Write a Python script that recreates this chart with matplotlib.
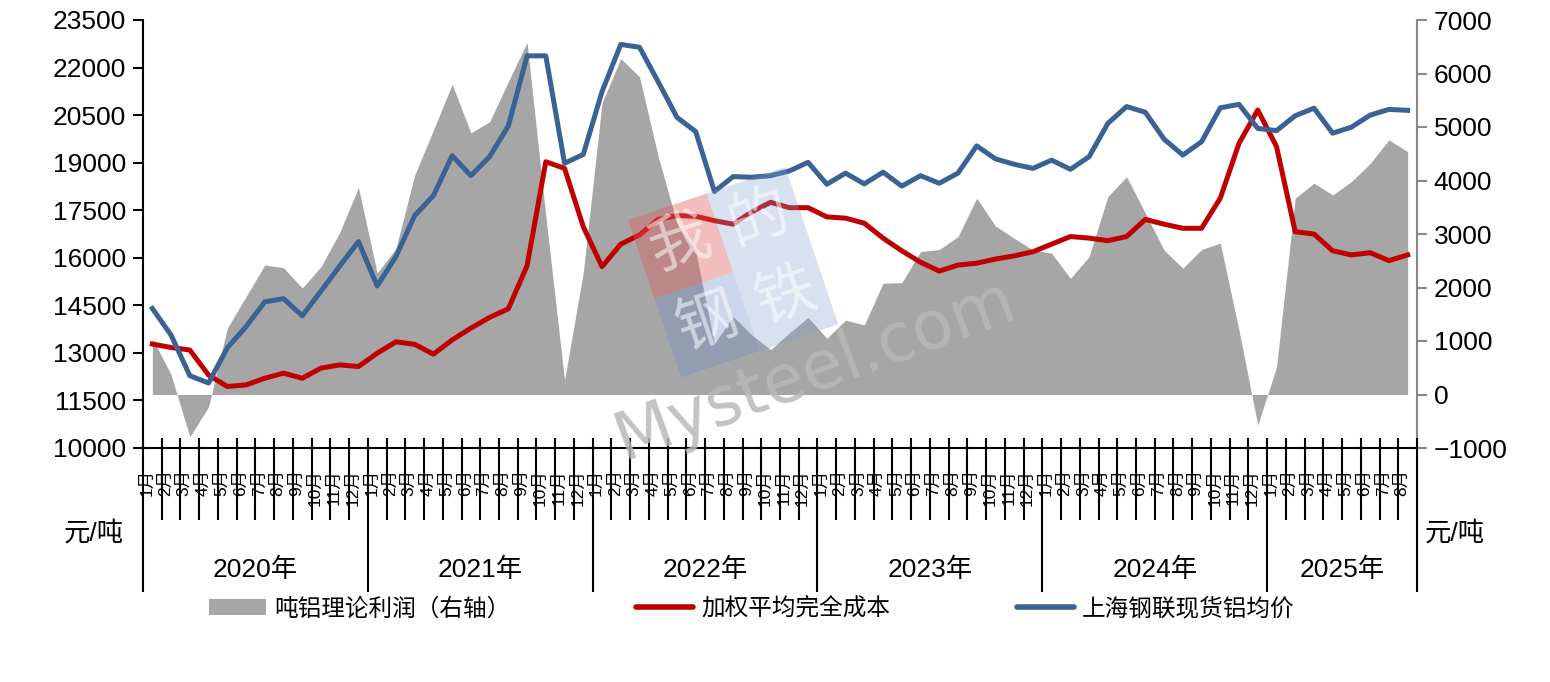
import matplotlib
matplotlib.use('Agg')
import matplotlib.pyplot as plt
import matplotlib.transforms as mtransforms
from matplotlib.patches import Patch, Rectangle
from matplotlib.lines import Line2D
import numpy as np

plt.rcParams['font.family'] = ['Liberation Sans', 'Noto Sans CJK SC']

# ---------------- data ----------------
years = ['2020年', '2021年', '2022年', '2023年', '2024年', '2025年']
months_per_year = [12, 12, 12, 12, 12, 8]
month_labels = [f'{m}月' for n in months_per_year for m in range(1, n + 1)]

# 上海钢联现货铝均价 (left axis, 元/吨)
price = [14400, 13560, 12280, 12050, 13160, 13830, 14610, 14710, 14170, 14950, 15740, 16510,
         15110, 16040, 17330, 17960, 19220, 18590, 19190, 20160, 22370, 22370, 18980, 19260,
         21240, 22730, 22640, 21550, 20430, 19980, 18090, 18560, 18540, 18590, 18740, 19010,
         18320, 18670, 18330, 18700, 18260, 18590, 18350, 18670, 19530, 19120, 18950, 18820,
         19080, 18790, 19190, 20240, 20770, 20590, 19740, 19240, 19660, 20730, 20840, 20080,
         20010, 20480, 20720, 19930, 20120, 20500, 20680, 20650]

# 加权平均完全成本 (left axis, 元/吨)
cost = [13280, 13170, 13090, 12300, 11940, 11990, 12200, 12360, 12200, 12520, 12620, 12570,
        12990, 13350, 13270, 12960, 13410, 13780, 14120, 14390, 15750, 19030, 18820, 16980,
        15720, 16430, 16720, 17210, 17330, 17310, 17170, 17060, 17450, 17750, 17580, 17580,
        17290, 17250, 17090, 16620, 16220, 15860, 15580, 15770, 15830, 15960, 16060, 16190,
        16430, 16670, 16620, 16540, 16670, 17210, 17060, 16930, 16930, 17880, 19610, 20660,
        19510, 16820, 16750, 16220, 16090, 16160, 15910, 16090]

# 吨铝理论利润 (right axis, 元/吨)
profit = [1050, 370, -790, -230, 1240, 1830, 2420, 2370, 1990, 2390, 3030, 3870,
          2270, 2730, 4100, 4940, 5800, 4890, 5100, 5850, 6580, 3340, 270, 2280,
          5450, 6280, 5940, 4450, 3200, 2680, 950, 1460, 1110, 840, 1150, 1440,
          1050, 1390, 1300, 2080, 2090, 2670, 2710, 2950, 3670, 3150, 2920, 2700,
          2640, 2170, 2580, 3700, 4070, 3390, 2700, 2360, 2710, 2830, 1200, -570,
          510, 3670, 3950, 3730, 3980, 4320, 4760, 4540]

left_ticks = list(range(10000, 23501, 1500))
right_ticks = list(range(-1000, 7001, 1000))

legend_labels = ['吨铝理论利润（右轴）', '加权平均完全成本', '上海钢联现货铝均价']

# ---------------- style ----------------
W, H = 1550, 682
c_area = '#A6A6A6'
c_red = '#C00000'
c_blue = '#3A6294'

fig = plt.figure(figsize=(W / 100, H / 100), dpi=100)
fig.patch.set_facecolor('white')
ax = fig.add_axes([143 / W, 1 - 448 / H, (1417 - 143) / W, 428 / H])
ax2 = ax.twinx()

x = np.arange(len(price))

ax2.fill_between(x, 0, profit, color=c_area, lw=0)
ax.plot(x, cost, color=c_red, lw=3.6)
ax.plot(x, price, color=c_blue, lw=3.6)

ax.set_zorder(ax2.get_zorder() + 1)
ax.patch.set_visible(False)

ax.set_xlim(-0.5, len(price) - 0.5)
ax.set_ylim(10000, 23500)
ax2.set_ylim(-1000, 7000)

ax.set_yticks(left_ticks)
ax2.set_yticks(right_ticks)
ax.set_xticks([])
ax.tick_params(axis='y', direction='out', length=7, width=1.5, labelsize=19, pad=5, color='black')
ax2.tick_params(axis='y', direction='out', length=7, width=1.5, labelsize=19, pad=5,
                color='#898989', labelcolor='black')

for s in ['top', 'right']:
    ax.spines[s].set_visible(False)
for s in ['left', 'bottom']:
    ax.spines[s].set_color('black')
    ax.spines[s].set_linewidth(1.5)
for s in ['top', 'left', 'bottom']:
    ax2.spines[s].set_visible(False)
ax2.spines['right'].set_color('#898989')
ax2.spines['right'].set_linewidth(1.5)

# ---------------- multi-level x axis ----------------
trans = mtransforms.blended_transform_factory(ax.transData, fig.transFigure)
boundaries = [0]
for n in months_per_year:
    boundaries.append(boundaries[-1] + n)
n_tot = len(price)
for k in range(n_tot + 1):
    xb = k - 0.5
    ybot = 592 if k in boundaries else 520
    ax.plot([xb, xb], [1 - 438 / H, 1 - ybot / H], transform=trans, color='black',
            lw=1.5, clip_on=False, solid_capstyle='butt')

for i, lab in enumerate(month_labels):
    ax.text(i - 0.3, 1 - 469 / H, lab, transform=trans, rotation=90, ha='center', va='top',
            fontsize=12.5)

for j, yl in enumerate(years):
    cx = (boundaries[j] + boundaries[j + 1]) / 2 - 0.5
    ax.text(cx, 1 - 570 / H, yl, transform=trans, ha='center', va='center', fontsize=19)

fig.text(94 / W, 1 - 533 / H, '元/吨', ha='center', va='center', fontsize=19)
fig.text(1455 / W, 1 - 533 / H, '元/吨', ha='center', va='center', fontsize=19)

# ---------------- legend (three entries placed individually) ----------------
handles = [Patch(facecolor=c_area, edgecolor='none'),
           Line2D([], [], color=c_red, lw=4, solid_capstyle='round'),
           Line2D([], [], color=c_blue, lw=4, solid_capstyle='round')]
starts = [209, 636, 1017]
for h, lab, sx in zip(handles, legend_labels, starts):
    lg = fig.legend(handles=[h], labels=[lab], loc='center left',
                    bbox_to_anchor=(sx / W, 1 - 609 / H), frameon=False, fontsize=17,
                    handlelength=2.4, handletextpad=0.35, borderpad=0, borderaxespad=0)

# ---------------- watermark ----------------
theta = 18.6
side = 83
base = mtransforms.Affine2D().scale(side).rotate_deg(theta).translate(628, H - 220)
cells = [(0, 0, '我', '#E05A5A', 0.40), (1, 0, '的', '#7F9DD0', 0.30),
         (0, 1, '钢', '#6F8FC8', 0.35), (1, 1, '铁', '#7F9DD0', 0.30)]
for col, row, ch, fc, al in cells:
    r = Rectangle((col, -row - 1), 1, 1, transform=base, facecolor=fc, alpha=al,
                  edgecolor='none', zorder=5)
    fig.add_artist(r)
    fig.text(col + 0.5, -row - 0.5, ch, transform=base, rotation=theta, ha='center',
             va='center', fontsize=44, color='white', alpha=0.55, zorder=6,
             rotation_mode='anchor')

fig.text(815 / W, 1 - 370 / H, 'Mysteel.com', rotation=20, ha='center', va='center',
         fontsize=48, family='DejaVu Sans', color='#B8B8B8', alpha=0.85, zorder=6,
         rotation_mode='anchor')

fig.savefig('out.png', dpi=100, facecolor='white')
